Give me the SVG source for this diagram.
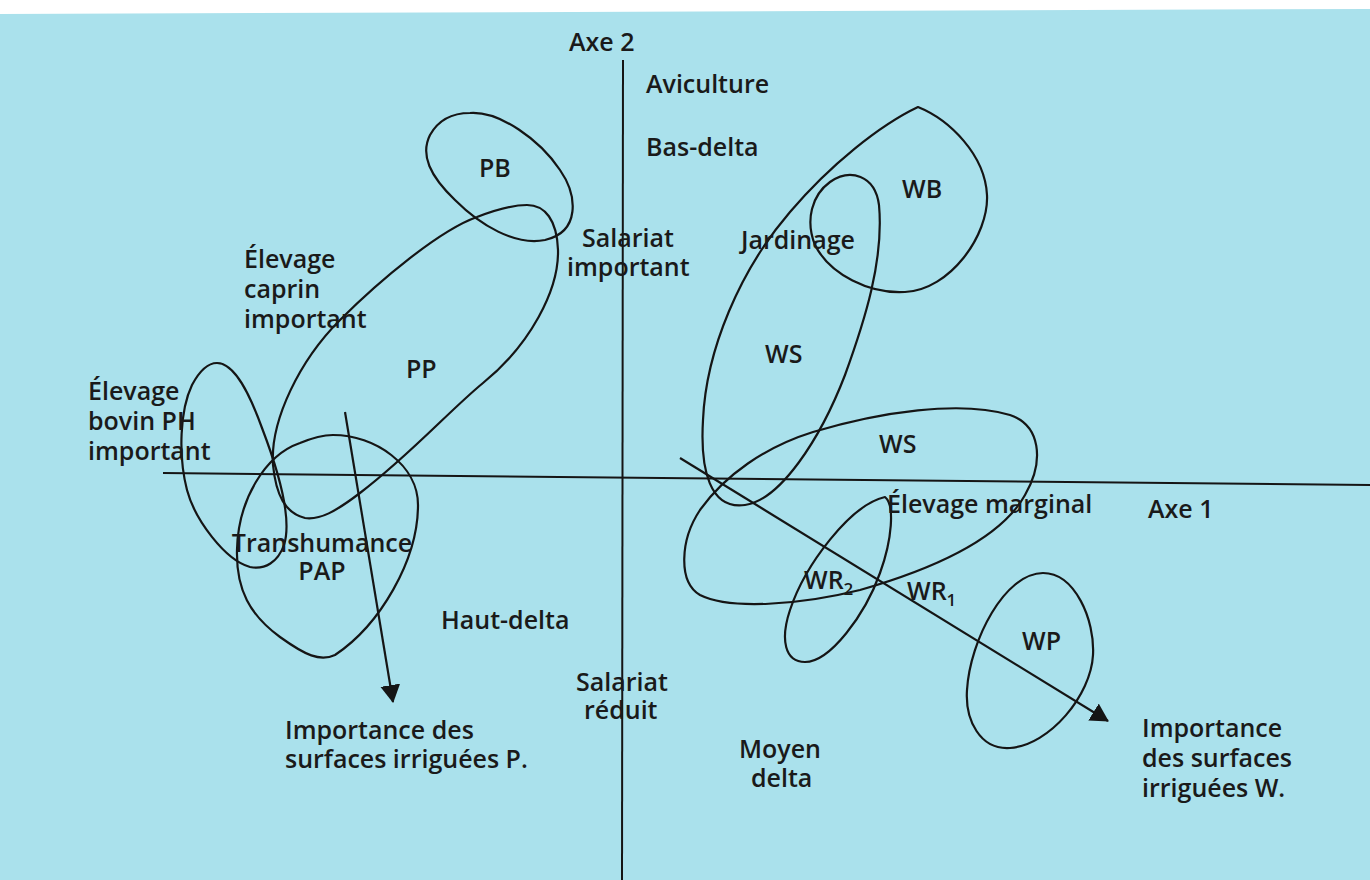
<svg xmlns="http://www.w3.org/2000/svg" width="1370" height="880" viewBox="0 0 1370 880">
<defs>
<style>
.bg{fill:#aae1ec}
.loop{fill:none;stroke:#151515;stroke-width:2.2;stroke-linejoin:round}
.ax{stroke:#151515;stroke-width:2}
.arr{stroke:#151515;stroke-width:2.2;fill:none}
text{font-family:"Open Sans","Liberation Sans",sans-serif;font-size:25px;font-weight:600;fill:#1a1a1a}
.sub{font-size:17px}
</style>
<marker id="ah" viewBox="0 0 18 20" refX="17" refY="10" markerWidth="18" markerHeight="20" markerUnits="userSpaceOnUse" orient="auto">
<path d="M0 0 L18 10 L0 20 Z" fill="#151515"/>
</marker>
</defs>
<rect x="0" y="0" width="1370" height="880" fill="#ffffff"/>
<polygon class="bg" points="0,14 1370,9 1370,880 0,880"/>

<g id="connectors">
<line class="ax" x1="623" y1="60" x2="622" y2="880"/>
<line class="ax" x1="163" y1="473" x2="1370" y2="485"/>
<line class="arr" x1="345" y1="412" x2="393" y2="702" marker-end="url(#ah)"/>
<line class="arr" x1="680" y1="458" x2="1108" y2="721" marker-end="url(#ah)"/>
</g>

<g id="axis-labels">
<text x="569" y="51">Axe 2</text>
<text x="1148" y="518">Axe 1</text>
</g>

<g id="node-pb">
<path class="loop" d="M470 113 C500 111 540 140 560 170 C578 196 580 232 545 240 C515 246 480 225 455 200 C430 176 420 155 430 135 C440 117 455 113 470 113 Z"/>
<text x="479" y="177">PB</text>
</g>

<g id="node-pp">
<path class="loop" d="M527 205 C545 205 557 220 558 250 C559 290 530 345 483 383 C450 410 410 455 360 493 C335 512 320 520 305 518 C285 513 276 495 273 465 C270 420 300 360 340 320 C380 280 440 230 477 217 C495 210 512 205 527 205 Z"/>
<text x="406" y="378">PP</text>
</g>

<g id="node-bovin">
<path class="loop" d="M217 363 C235 363 250 395 262 428 C280 475 292 520 284 545 C278 562 265 570 250 567 C225 560 195 520 187 490 C178 455 180 410 192 385 C200 370 208 363 217 363 Z"/>
<text x="88" y="400">Élevage</text>
<text x="88" y="430">bovin PH</text>
<text x="88" y="460">important</text>
</g>

<g id="node-pap">
<path class="loop" d="M333 435 C375 435 418 465 418 505 C418 560 380 625 335 655 C320 662 305 655 280 637 C250 615 236 590 237 550 C238 500 265 455 300 443 C312 438 322 435 333 435 Z"/>
<text x="322" y="552" text-anchor="middle">Transhumance</text>
<text x="322" y="580" text-anchor="middle">PAP</text>
</g>

<g id="node-wb-ws">
<path class="loop" d="M918 107 C950 120 985 155 987 195 C989 235 950 290 905 292 C870 294 830 275 815 245 C805 220 812 195 830 182 C850 168 875 175 879 205 C884 260 865 320 845 375 C820 440 780 500 745 505 C710 510 700 470 703 420 C706 350 740 270 790 212 C830 165 880 125 918 107 Z"/>
<text x="902" y="198">WB</text>
<text x="741" y="249">Jardinage</text>
<text x="765" y="363">WS</text>
</g>

<g id="node-ws2">
<path class="loop" d="M813 432 C880 412 960 400 1010 415 C1040 425 1045 460 1025 495 C1000 540 930 570 860 590 C800 605 730 610 700 595 C678 582 680 540 700 510 C725 475 765 447 813 432 Z"/>
<text x="879" y="453">WS</text>
</g>

<g id="node-wr2">
<path class="loop" d="M885 497 C895 505 892 540 880 573 C865 615 830 662 805 662 C785 662 780 640 790 610 C805 565 850 505 885 497 Z"/>
<text x="804" y="589">WR<tspan class="sub" dy="6">2</tspan></text>
</g>

<g id="node-wr1">
<text x="907" y="600">WR<tspan class="sub" dy="6">1</tspan></text>
</g>

<g id="node-wp">
<path class="loop" d="M1043 573 C1075 573 1095 620 1093 655 C1091 695 1050 745 1010 748 C980 750 965 720 967 690 C970 640 1005 573 1043 573 Z"/>
<text x="1022" y="650">WP</text>
</g>

<g id="labels">
<text x="646" y="93">Aviculture</text>
<text x="646" y="156">Bas-delta</text>
<text x="582" y="247">Salariat</text>
<text x="567" y="276">important</text>
<text x="244" y="268">Élevage</text>
<text x="244" y="298">caprin</text>
<text x="244" y="328">important</text>
<text x="887" y="513">Élevage marginal</text>
<text x="441" y="629">Haut-delta</text>
<text x="576" y="691">Salariat</text>
<text x="584" y="719">réduit</text>
<text x="285" y="739">Importance des</text>
<text x="285" y="768">surfaces irriguées P.</text>
<text x="739" y="758">Moyen</text>
<text x="751" y="787">delta</text>
<text x="1142" y="737">Importance</text>
<text x="1142" y="767">des surfaces</text>
<text x="1142" y="797">irriguées W.</text>
</g>
</svg>
